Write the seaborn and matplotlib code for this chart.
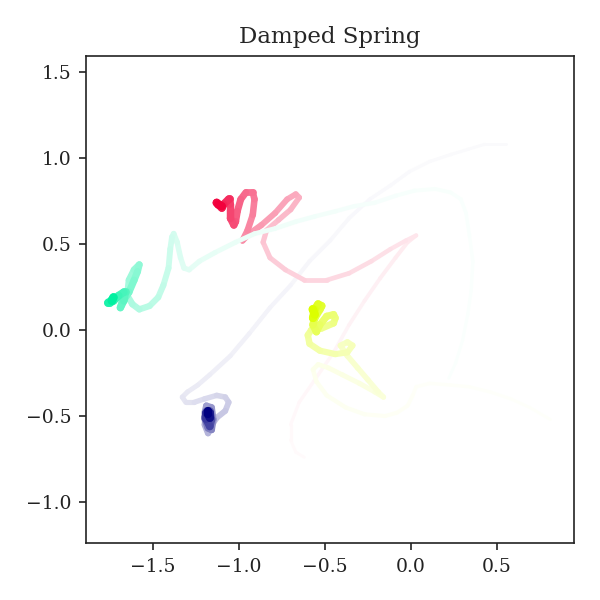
import numpy as np
import pandas as pd
import matplotlib
matplotlib.use("Agg")  # headless rendering
import matplotlib.pyplot as plt
from matplotlib.collections import LineCollection
from matplotlib.colors import to_rgb
import seaborn as sns

# trajectories, from first (faint) to last (solid) position
navy_x = [0.55, 0.43, 0.33, 0.23, 0.11, -0.01, -0.12, -0.24, -0.36, -0.47, -0.59, -0.70,
          -0.82, -0.94, -1.05, -1.17, -1.24, -1.30, -1.33, -1.31, -1.26, -1.20, -1.13,
          -1.08, -1.06, -1.08, -1.13, -1.17, -1.18, -1.20, -1.20, -1.19, -1.16, -1.15,
          -1.16, -1.18, -1.20, -1.19, -1.17, -1.16, -1.17, -1.19, -1.19, -1.17, -1.17,
          -1.18, -1.18]
navy_y = [1.08, 1.08, 1.05, 1.02, 0.98, 0.92, 0.84, 0.76, 0.65, 0.52, 0.40, 0.26,
          0.13, -0.02, -0.15, -0.26, -0.32, -0.36, -0.39, -0.42, -0.42, -0.40, -0.38,
          -0.39, -0.42, -0.47, -0.51, -0.57, -0.60, -0.55, -0.48, -0.44, -0.45, -0.52,
          -0.58, -0.57, -0.51, -0.47, -0.47, -0.52, -0.56, -0.52, -0.48, -0.48, -0.51,
          -0.49, -0.47]

red_x = [-0.62, -0.67, -0.70, -0.70, -0.65, -0.56, -0.45, -0.36, -0.27, -0.18, -0.09,
         -0.02, 0.03, -0.03, -0.12, -0.23, -0.36, -0.49, -0.62, -0.73, -0.82, -0.86,
         -0.84, -0.77, -0.70, -0.65, -0.67, -0.72, -0.79, -0.87, -0.94, -0.98, -0.95,
         -0.92, -0.91, -0.92, -0.96, -0.99, -1.01, -1.02, -1.03, -1.05, -1.05, -1.05,
         -1.06, -1.09, -1.10, -1.12, -1.13, -1.12, -1.10]
red_y = [-0.74, -0.71, -0.64, -0.55, -0.42, -0.29, -0.13, 0.03, 0.17, 0.30, 0.42,
         0.51, 0.55, 0.52, 0.47, 0.40, 0.33, 0.29, 0.29, 0.35, 0.42, 0.51,
         0.58, 0.64, 0.70, 0.77, 0.79, 0.76, 0.68, 0.61, 0.56, 0.52, 0.58,
         0.67, 0.76, 0.80, 0.80, 0.76, 0.69, 0.63, 0.61, 0.65, 0.73, 0.76,
         0.76, 0.73, 0.71, 0.73, 0.74, 0.73, 0.72]

green_x = [0.22, 0.26, 0.30, 0.33, 0.35, 0.36, 0.34, 0.32, 0.29, 0.23, 0.14, 0.02,
           -0.09, -0.21, -0.33, -0.44, -0.56, -0.67, -0.79, -0.91, -1.02, -1.14, -1.23,
           -1.29, -1.32, -1.34, -1.36, -1.38, -1.39, -1.40, -1.41, -1.44, -1.47, -1.52,
           -1.58, -1.62, -1.65, -1.64, -1.61, -1.58, -1.59, -1.61, -1.64, -1.68, -1.69,
           -1.67, -1.66, -1.67, -1.70, -1.73, -1.75, -1.76, -1.74, -1.73, -1.74]
green_y = [-0.28, -0.19, -0.06, 0.09, 0.23, 0.40, 0.55, 0.68, 0.76, 0.80, 0.82, 0.81,
           0.78, 0.74, 0.72, 0.69, 0.66, 0.63, 0.59, 0.56, 0.51, 0.45, 0.40,
           0.35, 0.36, 0.42, 0.51, 0.56, 0.54, 0.47, 0.36, 0.26, 0.19, 0.14,
           0.12, 0.15, 0.20, 0.29, 0.35, 0.38, 0.34, 0.29, 0.22, 0.16, 0.13,
           0.17, 0.22, 0.22, 0.20, 0.17, 0.16, 0.16, 0.17, 0.19, 0.17]

yellow_x = [0.81, 0.69, 0.58, 0.46, 0.34, 0.23, 0.11, 0.03, 0.01, -0.02, -0.08, -0.15,
            -0.27, -0.38, -0.49, -0.55, -0.57, -0.54, -0.48, -0.40, -0.30, -0.21, -0.16,
            -0.19, -0.25, -0.31, -0.37, -0.41, -0.37, -0.34, -0.37, -0.44, -0.53, -0.59,
            -0.60, -0.58, -0.52, -0.45, -0.44, -0.45, -0.49, -0.53, -0.55, -0.57, -0.56,
            -0.53, -0.52, -0.54, -0.56, -0.57, -0.56, -0.57]
yellow_y = [-0.52, -0.45, -0.40, -0.36, -0.33, -0.32, -0.31, -0.33, -0.38, -0.44, -0.48, -0.50,
            -0.49, -0.45, -0.38, -0.30, -0.23, -0.20, -0.22, -0.26, -0.31, -0.36, -0.39,
            -0.36, -0.29, -0.22, -0.15, -0.09, -0.07, -0.09, -0.13, -0.14, -0.12, -0.08,
            -0.03, 0.00, 0.01, 0.04, 0.07, 0.09, 0.08, 0.03, -0.01, 0.03, 0.07,
            0.12, 0.14, 0.15, 0.12, 0.07, 0.09, 0.12]

names = ["navy", "red", "green", "yellow"]
colors = {"navy": "#000080", "red": "#f2003c", "green": "#00f0a0", "yellow": "#dcff00"}
fade = {"navy": 2.7, "red": 1.8, "green": 2.8, "yellow": 2.5}  # how fast each trail fades in
tracks = {
    "navy": (navy_x, navy_y),
    "red": (red_x, red_y),
    "green": (green_x, green_y),
    "yellow": (yellow_x, yellow_y),
}


def draw_trail(ax, xs, ys, color, power):
    """Segments fade in along the path: early ones thin and washed out to white."""
    pts = np.column_stack([xs, ys])
    segs = np.stack([pts[:-1], pts[1:]], axis=1)
    t = np.linspace(0, 1, len(segs))
    strength = 0.02 + 0.98 * t ** power
    base = np.array(to_rgb(color))
    rgb = 1 - strength[:, None] * (1 - base)  # mix with the white background
    lc = LineCollection(segs, colors=rgb, linewidths=1.4 + 2.6 * t,
                        capstyle="round", joinstyle="round")
    ax.add_collection(lc)


sns.set_theme(style="ticks", rc={
    "axes.edgecolor": "#222222",
    "axes.linewidth": 0.8,
    "xtick.color": "#222222",
    "ytick.color": "#222222",
    "xtick.major.width": 0.8,
    "ytick.major.width": 0.8,
    "xtick.major.size": 3.5,
    "ytick.major.size": 3.5,
    "font.size": 9,
    "xtick.labelsize": 9,
    "ytick.labelsize": 9,
    "axes.titlesize": 11,
})
plt.rcParams["font.family"] = ["DejaVu Serif"]

fig = plt.figure(figsize=(4, 4), dpi=150)
ax = fig.add_axes([0.1433, 0.095, 0.8128, 0.8117])

for name in names:
    xs, ys = tracks[name]
    draw_trail(ax, xs, ys, colors[name], fade[name])

ends = pd.DataFrame({
    "name": names,
    "x": [tracks[n][0][-1] for n in names],
    "y": [tracks[n][1][-1] for n in names],
})
sns.scatterplot(data=ends, x="x", y="y", hue="name", palette=colors,
                s=18, linewidth=0, legend=False, ax=ax)

ax.set_xlim(-1.89, 0.946)
ax.set_ylim(-1.238, 1.593)
ax.set_xticks([-1.5, -1.0, -0.5, 0.0, 0.5])
ax.set_yticks([-1.0, -0.5, 0.0, 0.5, 1.0, 1.5])
ax.set_xlabel("")
ax.set_ylabel("")
ax.set_title("Damped Spring")

fig.savefig("out.png", dpi=150)
plt.close(fig)
